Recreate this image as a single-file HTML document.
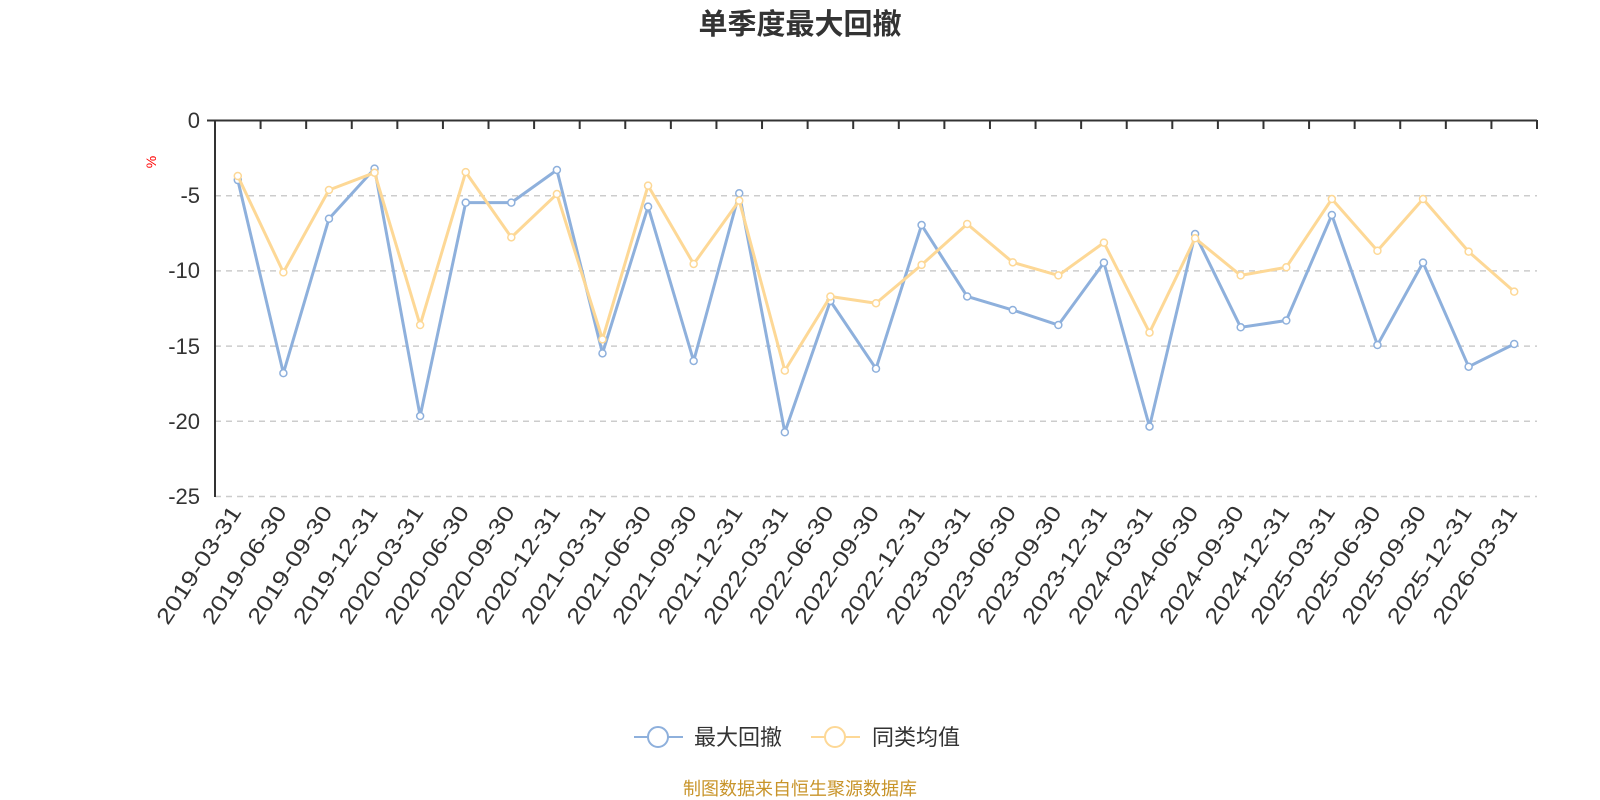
<!DOCTYPE html>
<html><head><meta charset="utf-8"><style>
html,body{margin:0;padding:0;background:#fff;}
svg{display:block;font-family:"Liberation Sans","Noto Sans CJK SC",sans-serif;}
</style></head><body>
<svg id="c" width="1600" height="800" viewBox="0 0 1600 800" xmlns="http://www.w3.org/2000/svg">
<text x="800" y="34" text-anchor="middle" font-size="29" font-weight="bold" fill="#333">单季度最大回撤</text>
<g stroke="#ccc" stroke-width="1.5" stroke-dasharray="6,5">
<line x1="215" x2="1537" y1="195.7" y2="195.7"/>
<line x1="215" x2="1537" y1="270.9" y2="270.9"/>
<line x1="215" x2="1537" y1="346.1" y2="346.1"/>
<line x1="215" x2="1537" y1="421.3" y2="421.3"/>
<line x1="215" x2="1537" y1="496.5" y2="496.5"/>
</g>
<g font-size="22" fill="#333" text-anchor="end">
<text x="200" y="128">0</text>
<text x="200" y="203">-5</text>
<text x="200" y="278">-10</text>
<text x="200" y="354">-15</text>
<text x="200" y="429">-20</text>
<text x="200" y="504">-25</text>
</g>
<text transform="translate(156,162) rotate(-90)" font-size="14" fill="red" text-anchor="middle">%</text>
<g id="ticks" stroke="#333" stroke-width="2"></g>
<line x1="215" x2="215" y1="120" y2="497" stroke="#333" stroke-width="2"/>
<line x1="207" x2="1537" y1="120.5" y2="120.5" stroke="#333" stroke-width="2"/>
<g id="series"></g>
<g transform="translate(0,737)">
<line x1="634" x2="683" y1="0" y2="0" stroke="#8eb0dc" stroke-width="2"/>
<circle cx="658" cy="0" r="10" fill="#fff" stroke="#8eb0dc" stroke-width="2"/>
<text x="694" y="8" font-size="22" fill="#333">最大回撤</text>
<line x1="811" x2="860" y1="0" y2="0" stroke="#fdd896" stroke-width="2"/>
<circle cx="835" cy="0" r="10" fill="#fff" stroke="#fdd896" stroke-width="2"/>
<text x="872" y="8" font-size="22" fill="#333">同类均值</text>
</g>
<text x="800" y="795" font-size="18" fill="#c8942a" text-anchor="middle">制图数据来自恒生聚源数据库</text>
<g id="xlabels" font-size="22" fill="#333" text-anchor="end">
<text transform="translate(242,512) rotate(-57)" textLength="136" lengthAdjust="spacingAndGlyphs">2019-03-31</text>
<text transform="translate(287.6,512) rotate(-57)" textLength="136" lengthAdjust="spacingAndGlyphs">2019-06-30</text>
<text transform="translate(333.2,512) rotate(-57)" textLength="136" lengthAdjust="spacingAndGlyphs">2019-09-30</text>
<text transform="translate(378.7,512) rotate(-57)" textLength="136" lengthAdjust="spacingAndGlyphs">2019-12-31</text>
<text transform="translate(424.3,512) rotate(-57)" textLength="136" lengthAdjust="spacingAndGlyphs">2020-03-31</text>
<text transform="translate(469.9,512) rotate(-57)" textLength="136" lengthAdjust="spacingAndGlyphs">2020-06-30</text>
<text transform="translate(515.5,512) rotate(-57)" textLength="136" lengthAdjust="spacingAndGlyphs">2020-09-30</text>
<text transform="translate(561.1,512) rotate(-57)" textLength="136" lengthAdjust="spacingAndGlyphs">2020-12-31</text>
<text transform="translate(606.6,512) rotate(-57)" textLength="136" lengthAdjust="spacingAndGlyphs">2021-03-31</text>
<text transform="translate(652.2,512) rotate(-57)" textLength="136" lengthAdjust="spacingAndGlyphs">2021-06-30</text>
<text transform="translate(697.8,512) rotate(-57)" textLength="136" lengthAdjust="spacingAndGlyphs">2021-09-30</text>
<text transform="translate(743.4,512) rotate(-57)" textLength="136" lengthAdjust="spacingAndGlyphs">2021-12-31</text>
<text transform="translate(789,512) rotate(-57)" textLength="136" lengthAdjust="spacingAndGlyphs">2022-03-31</text>
<text transform="translate(834.5,512) rotate(-57)" textLength="136" lengthAdjust="spacingAndGlyphs">2022-06-30</text>
<text transform="translate(880.1,512) rotate(-57)" textLength="136" lengthAdjust="spacingAndGlyphs">2022-09-30</text>
<text transform="translate(925.7,512) rotate(-57)" textLength="136" lengthAdjust="spacingAndGlyphs">2022-12-31</text>
<text transform="translate(971.3,512) rotate(-57)" textLength="136" lengthAdjust="spacingAndGlyphs">2023-03-31</text>
<text transform="translate(1016.9,512) rotate(-57)" textLength="136" lengthAdjust="spacingAndGlyphs">2023-06-30</text>
<text transform="translate(1062.4,512) rotate(-57)" textLength="136" lengthAdjust="spacingAndGlyphs">2023-09-30</text>
<text transform="translate(1108,512) rotate(-57)" textLength="136" lengthAdjust="spacingAndGlyphs">2023-12-31</text>
<text transform="translate(1153.6,512) rotate(-57)" textLength="136" lengthAdjust="spacingAndGlyphs">2024-03-31</text>
<text transform="translate(1199.2,512) rotate(-57)" textLength="136" lengthAdjust="spacingAndGlyphs">2024-06-30</text>
<text transform="translate(1244.8,512) rotate(-57)" textLength="136" lengthAdjust="spacingAndGlyphs">2024-09-30</text>
<text transform="translate(1290.3,512) rotate(-57)" textLength="136" lengthAdjust="spacingAndGlyphs">2024-12-31</text>
<text transform="translate(1335.9,512) rotate(-57)" textLength="136" lengthAdjust="spacingAndGlyphs">2025-03-31</text>
<text transform="translate(1381.5,512) rotate(-57)" textLength="136" lengthAdjust="spacingAndGlyphs">2025-06-30</text>
<text transform="translate(1427.1,512) rotate(-57)" textLength="136" lengthAdjust="spacingAndGlyphs">2025-09-30</text>
<text transform="translate(1472.7,512) rotate(-57)" textLength="136" lengthAdjust="spacingAndGlyphs">2025-12-31</text>
<text transform="translate(1518.2,512) rotate(-57)" textLength="136" lengthAdjust="spacingAndGlyphs">2026-03-31</text>
</g>
</svg>
<script>
var NS="http://www.w3.org/2000/svg";
var x0=215,bw=(1537-215)/29;
var tg=document.getElementById('ticks');
for(var i=0;i<=29;i++){var l=document.createElementNS(NS,'line');var x=x0+bw*i;l.setAttribute('x1',x);l.setAttribute('x2',x);l.setAttribute('y1',120);l.setAttribute('y2',129);tg.appendChild(l);}
var blue=[-3.96,-16.8,-6.53,-3.2,-19.65,-5.46,-5.46,-3.29,-15.48,-5.73,-15.99,-4.84,-20.73,-12.0,-16.5,-6.95,-11.7,-12.6,-13.6,-9.45,-20.35,-7.55,-13.75,-13.3,-6.28,-14.93,-9.45,-16.37,-14.86];
var yel=[-3.69,-10.1,-4.62,-3.47,-13.6,-3.43,-7.77,-4.89,-14.55,-4.33,-9.54,-5.33,-16.63,-11.7,-12.15,-9.6,-6.88,-9.43,-10.3,-8.12,-14.1,-7.83,-10.3,-9.76,-5.22,-8.66,-5.22,-8.72,-11.38];
var sg=document.getElementById('series');
function draw(d,c){var pts=d.map(function(v,i){return [x0+bw*(i+0.5),120.5-v*15.04];});
var p=document.createElementNS(NS,'polyline');p.setAttribute('points',pts.map(function(q){return q.join(',')}).join(' '));p.setAttribute('fill','none');p.setAttribute('stroke',c);p.setAttribute('stroke-width',3);p.setAttribute('stroke-linejoin','round');sg.appendChild(p);
pts.forEach(function(q){var ci=document.createElementNS(NS,'circle');ci.setAttribute('cx',q[0]);ci.setAttribute('cy',q[1]);ci.setAttribute('r',3.5);ci.setAttribute('fill','#fff');ci.setAttribute('stroke',c);ci.setAttribute('stroke-width',1.5);sg.appendChild(ci);});}
draw(blue,'#8eb0dc');draw(yel,'#fdd896');
</script>
</body></html>
